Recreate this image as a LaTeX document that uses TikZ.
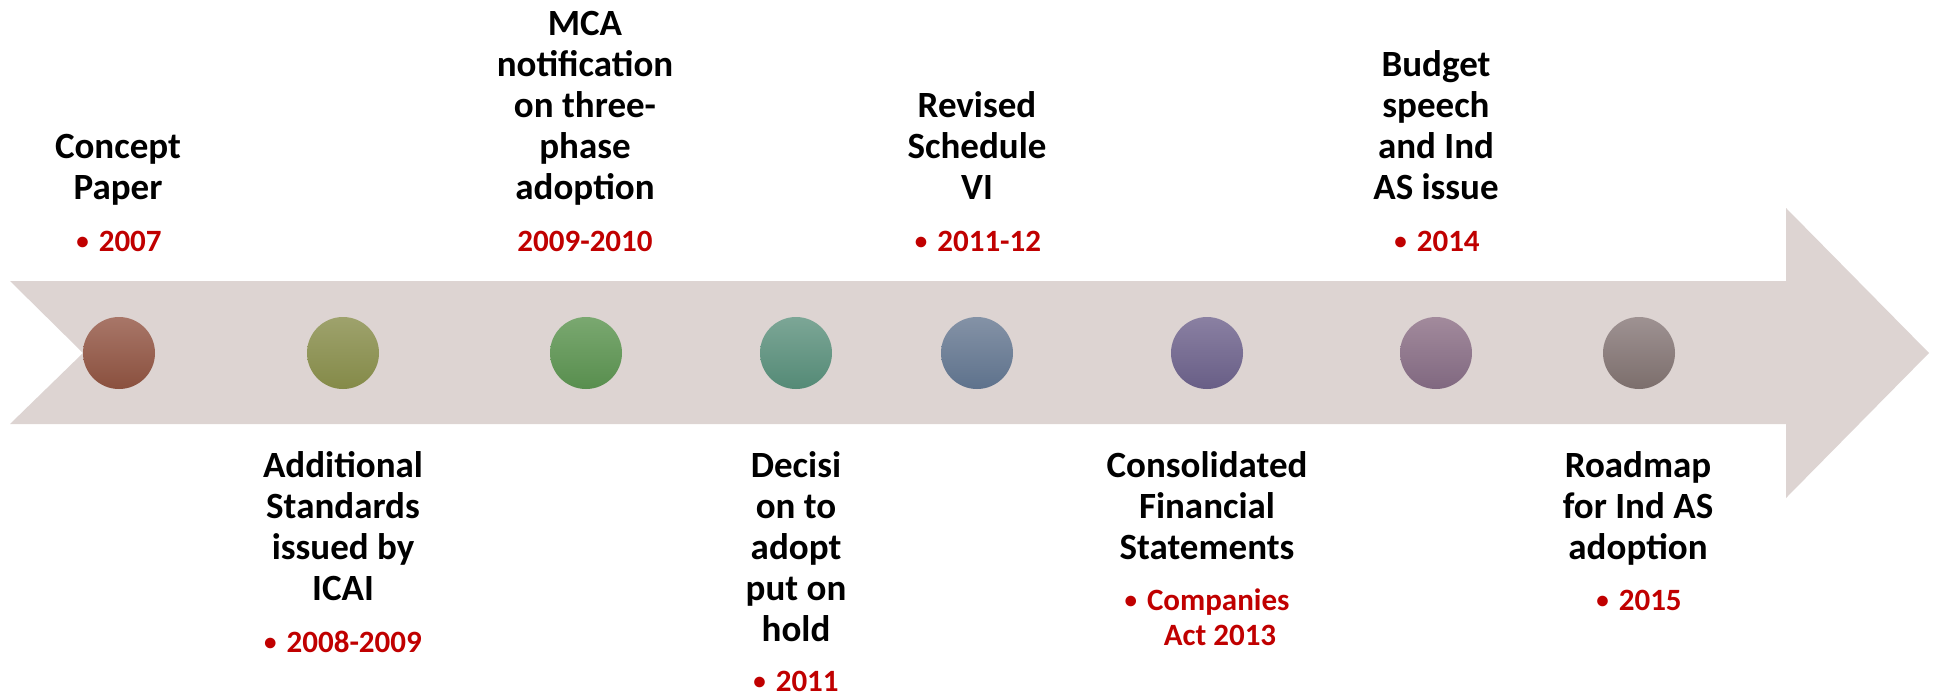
\documentclass[tikz,border=0pt]{standalone}
\usepackage{fontspec}
\setmainfont{Carlito}
\definecolor{bandcol}{RGB}{221,212,210}
\definecolor{yrred}{RGB}{192,0,0}
\definecolor{d1t}{RGB}{168,118,104}\definecolor{d1b}{RGB}{138,80,62}
\definecolor{d2t}{RGB}{158,162,108}\definecolor{d2b}{RGB}{132,138,72}
\definecolor{d3t}{RGB}{122,168,112}\definecolor{d3b}{RGB}{88,142,78}
\definecolor{d4t}{RGB}{124,166,150}\definecolor{d4b}{RGB}{84,138,118}
\definecolor{d5t}{RGB}{132,146,166}\definecolor{d5b}{RGB}{94,114,140}
\definecolor{d6t}{RGB}{138,128,162}\definecolor{d6b}{RGB}{104,94,134}
\definecolor{d7t}{RGB}{162,138,156}\definecolor{d7b}{RGB}{128,104,128}
\definecolor{d8t}{RGB}{158,146,146}\definecolor{d8b}{RGB}{124,110,108}
% small list bullet in front of a year
\newcommand\yrbul{\raisebox{2pt}{\fontsize{25}{25}\selectfont •}\hspace{10pt}}
\begin{document}
\begin{tikzpicture}[x=1pt,y=-1pt,
  band/.style={fill=bandcol,draw=none},
  dot/.style={circle,minimum size=72pt,inner sep=0pt,draw=none},
  lbl/.style={inner sep=0pt,anchor=base,font=\fontsize{37}{41}\selectfont\bfseries},
  yr/.style={inner sep=0pt,anchor=base,text=yrred,font=\fontsize{31}{35}\selectfont\bfseries}]
\useasboundingbox (0,0) rectangle (1939,696);

% timeline arrow with notched tail
\fill[band] (10,281) -- (1786,281) -- (1786,208) -- (1929,353) -- (1786,498)
  -- (1786,424) -- (10,424) -- (83,353) -- cycle;

% milestone dots
\node[dot,top color=d1t,bottom color=d1b] (c1) at (119,353) {};
\node[dot,top color=d2t,bottom color=d2b] (c2) at (343,353) {};
\node[dot,top color=d3t,bottom color=d3b] (c3) at (586,353) {};
\node[dot,top color=d4t,bottom color=d4b] (c4) at (796,353) {};
\node[dot,top color=d5t,bottom color=d5b] (c5) at (977,353) {};
\node[dot,top color=d6t,bottom color=d6b] (c6) at (1207,353) {};
\node[dot,top color=d7t,bottom color=d7b] (c7) at (1436,353) {};
\node[dot,top color=d8t,bottom color=d8b] (c8) at (1639,353) {};

% labels above the arrow
\node[lbl] (l1) at (118,199) {\begin{tabular}[b]{@{}c@{}}Concept\\Paper\end{tabular}};
\node[lbl] (l3) at (585,199) {\begin{tabular}[b]{@{}c@{}}MCA\\notification\\on three-\\phase\\adoption\end{tabular}};
\node[lbl] (l5) at (977,199) {\begin{tabular}[b]{@{}c@{}}Revised\\Schedule\\VI\end{tabular}};
\node[lbl] (l7) at (1436,199) {\begin{tabular}[b]{@{}c@{}}Budget\\speech\\and Ind\\AS issue\end{tabular}};

\node[yr] (y1) at (119,251) {\yrbul 2007};
\node[yr] (y3) at (585,251) {2009-2010};
\node[yr] (y5) at (978,251) {\yrbul 2011-12};
\node[yr] (y7) at (1437,251) {\yrbul 2014};

% labels below the arrow
\node[lbl] (l2) at (343,477) {\begin{tabular}[t]{@{}c@{}}Additional\\Standards\\issued by\\ICAI\end{tabular}};
\node[lbl] (l4) at (796,477) {\begin{tabular}[t]{@{}c@{}}Decisi\\on to\\adopt\\put on\\hold\end{tabular}};
\node[lbl] (l6) at (1207,477) {\begin{tabular}[t]{@{}c@{}}Consolidated\\Financial\\Statements\end{tabular}};
\node[lbl] (l8) at (1638,477) {\begin{tabular}[t]{@{}c@{}}Roadmap\\for Ind AS\\adoption\end{tabular}};

\node[yr] (y2) at (343,652) {\yrbul 2008-2009};
\node[yr] (y4) at (796,691) {\yrbul 2011};
\node[yr] (y6) at (1207,610) {\begin{tabular}[t]{@{}c@{}}\yrbul Companies\\\hspace*{26pt}Act 2013\end{tabular}};
\node[yr] (y8) at (1639,610) {\yrbul 2015};
\end{tikzpicture}
\end{document}
